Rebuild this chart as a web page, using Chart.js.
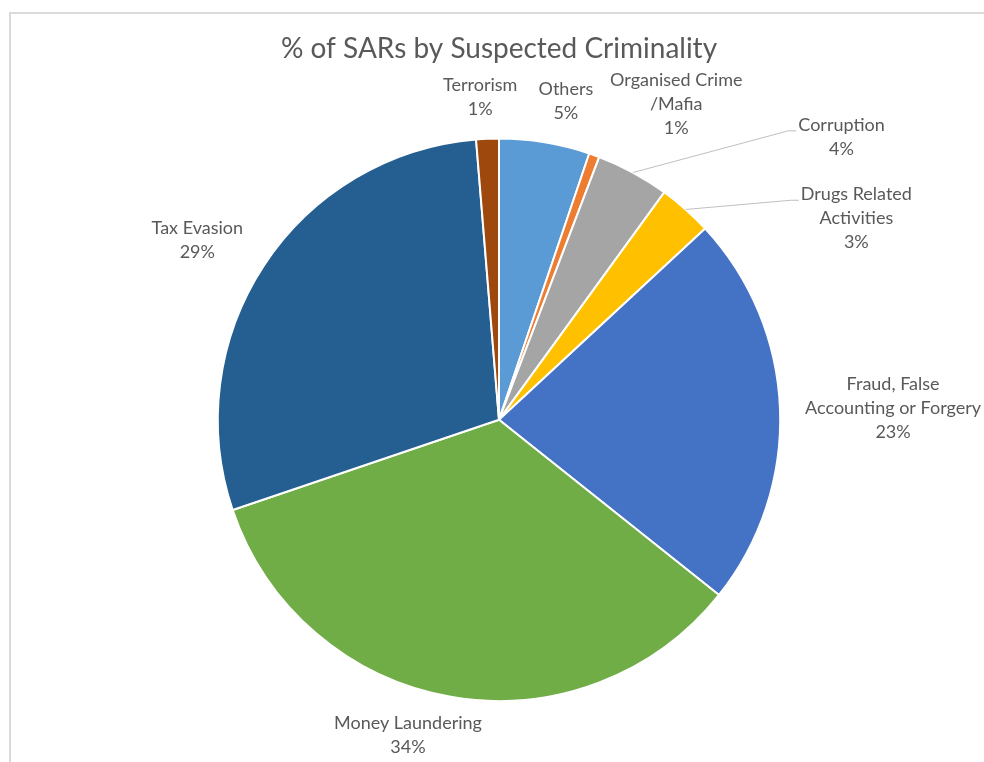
<!DOCTYPE html>
<html>
<head>
<meta charset="utf-8">
<script src="https://cdn.jsdelivr.net/npm/chart.js@4.4.1/dist/chart.umd.min.js"></script>
<style>
    html, body { margin: 0; padding: 0; background: #fff; }
    #wrap { position: relative; width: 984px; height: 762px; }
    #frame { position: absolute; left: 9px; top: 12px; right: 0; bottom: 0;
             border-top: 2px solid #dadada; border-left: 2px solid #dadada; }
    canvas { position: absolute; left: 0; top: 0; }
</style>
</head>
<body>
<div id="wrap">
    <div id="frame"></div>
    <canvas id="pieChart" width="984" height="762"></canvas>
</div>
<script>
// Datos del gráfico (porcentaje de SARs por criminalidad)
const categories = [
    'Others',
    ['Organised Crime', '/Mafia'],
    'Corruption',
    ['Drugs Related', 'Activities'],
    ['Fraud, False', 'Accounting or Forgery'],
    'Money Laundering',
    'Tax Evasion',
    'Terrorism'
];
const shares = [5.2, 0.6, 4.2, 3.1, 22.6, 34.1, 28.9, 1.3];
const sliceColors = ['#5B9BD5', '#ED7D31', '#A5A5A5', '#FFC000', '#4472C4', '#70AD47', '#255E91', '#9E480E'];

// Colocación de etiquetas: distancia relativa al radio y desplazamiento angular (grados)
const labelDist = [1.157, 1.288, 1.58, 1.459, 1.402, 1.167, 1.249, 1.149];
const labelShift = [2.5, 9.5, 22, 19, 0.4, 6.2, -2.5, -1];
const withLeader = [false, false, true, true, false, false, false, false];

const labelFont = '18px Lato, "Open Sans", sans-serif';
const lineGap = 24;

// Plugin para dibujar las etiquetas de datos
const sliceLabels = {
    id: 'sliceLabels',
    afterDatasetsDraw(chart) {
        const ctx = chart.ctx;
        const meta = chart.getDatasetMeta(0);
        const total = shares.reduce((a, b) => a + b, 0);
        ctx.save();
        ctx.font = labelFont;
        ctx.fillStyle = '#595959';
        ctx.textAlign = 'center';
        ctx.textBaseline = 'middle';
        meta.data.forEach((arc, i) => {
            const mid = (arc.startAngle + arc.endAngle) / 2;
            const ang = mid + labelShift[i] * Math.PI / 180;
            const r = arc.outerRadius;
            const cx = arc.x + Math.cos(ang) * r * labelDist[i];
            const cy = arc.y + Math.sin(ang) * r * labelDist[i];
            const name = Array.isArray(categories[i]) ? categories[i] : [categories[i]];
            const lines = name.concat([Math.round(shares[i] / total * 100) + '%']);
            const top = cy - (lines.length - 1) * lineGap / 2;
            lines.forEach((t, k) => ctx.fillText(t, cx, top + k * lineGap));

            if (withLeader[i]) {
                const w = Math.max(...name.map(t => ctx.measureText(t).width));
                const lx = cx - w / 2 - 2;
                const ly = top + 6;
                ctx.strokeStyle = '#bfbfbf';
                ctx.lineWidth = 1;
                ctx.beginPath();
                ctx.moveTo(arc.x + Math.cos(mid) * r, arc.y + Math.sin(mid) * r);
                ctx.lineTo(lx - 8, ly);
                ctx.lineTo(lx, ly);
                ctx.stroke();
            }
        });
        ctx.restore();
    }
};

function renderPieChart() {
    const ctx = document.getElementById('pieChart').getContext('2d');
    return new Chart(ctx, {
        type: 'pie',
        data: {
            labels: categories,
            datasets: [{
                data: shares,
                backgroundColor: sliceColors,
                borderColor: '#ffffff',
                borderWidth: 2
            }]
        },
        options: {
            responsive: false,
            animation: false,
            layout: { padding: { left: 100, right: 86, top: 0, bottom: 60 } },
            plugins: {
                legend: { display: false },
                tooltip: { enabled: false },
                title: {
                    display: true,
                    text: '% of SARs by Suspected Criminality',
                    color: '#595959',
                    font: { family: 'Lato, "Open Sans", sans-serif', size: 28, weight: 'normal' },
                    padding: { top: 32, bottom: 72 }
                }
            }
        },
        plugins: [sliceLabels]
    });
}

renderPieChart();
</script>
</body>
</html>
